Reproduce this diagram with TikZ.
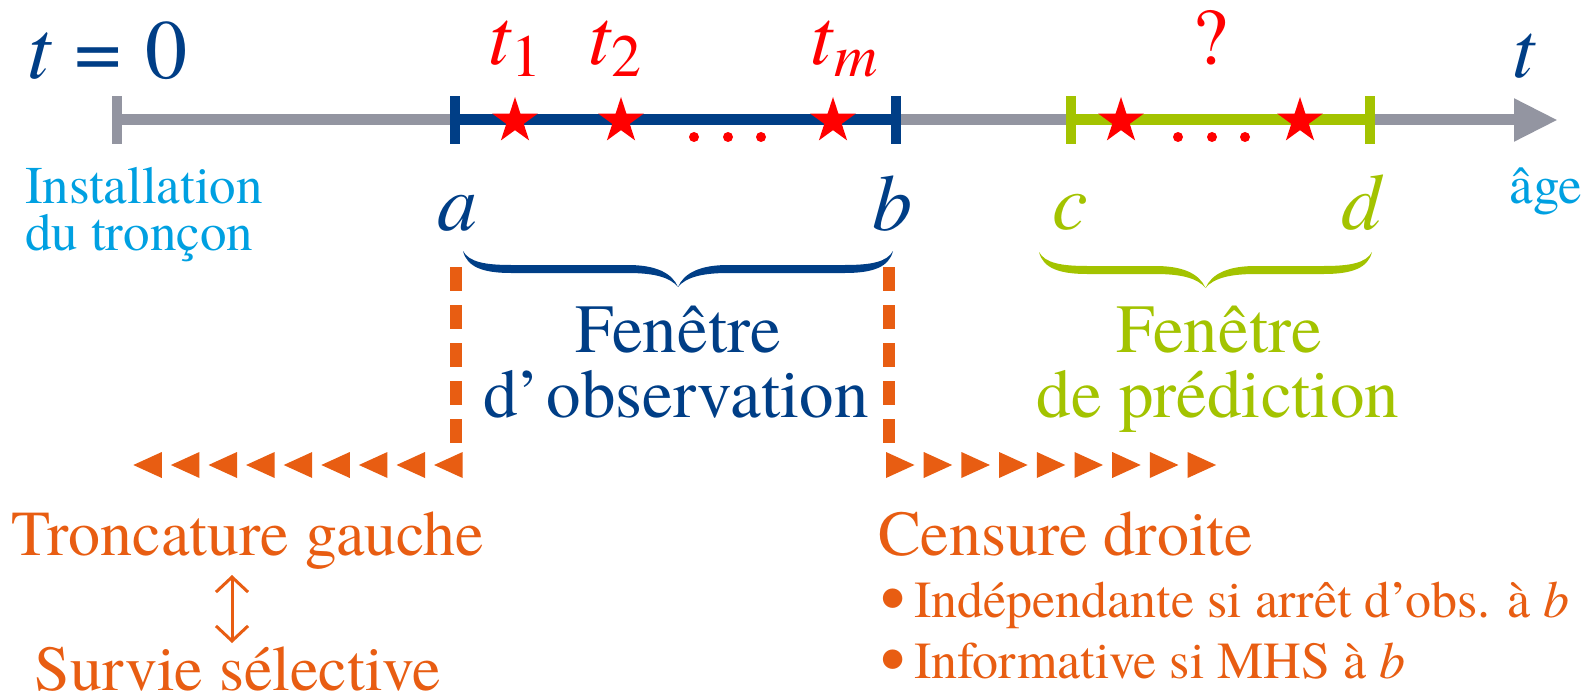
\documentclass[tikz,border=0pt]{standalone}
\usepackage{fontspec}
\IfFontExistsTF{texgyretermes-regular.otf}{%
  \setmainfont{texgyretermes}[Extension=.otf, UprightFont=*-regular, ItalicFont=*-italic, BoldFont=*-bold, BoldItalicFont=*-bolditalic]}{%
  \setmainfont{Liberation Serif}}
\usetikzlibrary{shapes.geometric,arrows.meta}
\definecolor{dblue}{RGB}{0,62,134}
\definecolor{axgray}{RGB}{147,149,161}
\definecolor{lblue}{RGB}{0,160,225}
\definecolor{lgreen}{RGB}{163,195,0}
\definecolor{orng}{RGB}{232,93,18}
% filled calligraphic brace: #1 left x, #2 right x, #3 top y, #4 colour
\newcommand\winbrace[4]{%
  \pgfmathsetmacro\xm{(#1+#2)/2}%
  \fill[#4] (#1,#3) .. controls ({#1+6},{#3+11}) and ({#1+22},{#3+14}) .. ({#1+48},{#3+14})
     -- ({\xm-50},{#3+14}) .. controls ({\xm-22},{#3+14}) and ({\xm-6},{#3+22}) .. (\xm,{#3+36})
     .. controls ({\xm+6},{#3+22}) and ({\xm+22},{#3+14}) .. ({\xm+50},{#3+14})
     -- ({#2-48},{#3+14}) .. controls ({#2-22},{#3+14}) and ({#2-6},{#3+11}) .. (#2,#3)
     .. controls ({#2-4},{#3+16}) and ({#2-20},{#3+22}) .. ({#2-48},{#3+22})
     -- ({\xm+50},{#3+22}) .. controls ({\xm+25},{#3+22}) and ({\xm+8},{#3+26}) .. (\xm,{#3+36})
     .. controls ({\xm-8},{#3+26}) and ({\xm-25},{#3+22}) .. ({\xm-50},{#3+22})
     -- ({#1+48},{#3+22}) .. controls ({#1+20},{#3+22}) and ({#1+4},{#3+16}) .. (#1,#3) -- cycle;}
\newcommand\bigbul{\raisebox{-5bp}[0pt][0pt]{\fontsize{72bp}{52bp}\selectfont •}}
\begin{document}
\begin{tikzpicture}[x=1bp,y=-1bp,
  big/.style={font=\rmfamily\fontsize{80bp}{96bp}\selectfont, inner sep=0pt, outer sep=0pt},
  mid/.style={font=\rmfamily\fontsize{69bp}{69bp}\selectfont, inner sep=0pt, outer sep=0pt},
  lab/.style={font=\rmfamily\fontsize{64bp}{64bp}\selectfont, inner sep=0pt, outer sep=0pt, text=orng},
  small/.style={font=\rmfamily\fontsize{53bp}{53bp}\selectfont, inner sep=0pt, outer sep=0pt},
  bul/.style={font=\rmfamily\fontsize{52bp}{52bp}\selectfont, inner sep=0pt, outer sep=0pt, text=orng},
  tickmark/.style={line width=10bp},
  axisline/.style={line width=11bp},
  evstar/.style={star, star points=5, star point ratio=2.618, fill=red, draw=none, minimum size=48bp, inner sep=0pt},
  evdot/.style={circle, fill=red, minimum size=10bp, inner sep=0pt},
  obsline/.style={draw=orng, line width=12bp, dash pattern=on 24bp off 14bp},
  dblarrow/.style={draw=orng, line width=3bp, {Straight Barb[length=15bp,width=32bp]}-{Straight Barb[length=15bp,width=32bp]}}
]
\useasboundingbox (0,0) rectangle (1582,695);

% axis
\coordinate (O) at (117,120);
\coordinate (A) at (455,120);
\coordinate (B) at (896,120);
\coordinate (C) at (1071,120);
\coordinate (D) at (1370,120);
\coordinate (E) at (1558,120);
\draw[axisline, axgray, -{Triangle[length=44bp,width=40bp]}] (O) -- (E);
\draw[tickmark, axgray] ([yshift=23.5bp]O) -- ([yshift=-23.5bp]O);
\draw[axisline, dblue] (A) -- (B);
\draw[tickmark, dblue] ([yshift=23.5bp]A) -- ([yshift=-23.5bp]A);
\draw[tickmark, dblue] ([yshift=23.5bp]B) -- ([yshift=-23.5bp]B);
\draw[axisline, lgreen] (C) -- (D);
\draw[tickmark, lgreen] ([yshift=23.5bp]C) -- ([yshift=-23.5bp]C);
\draw[tickmark, lgreen] ([yshift=23.5bp]D) -- ([yshift=-23.5bp]D);

% events
\node[evstar] (s1) at (515,121) {};
\node[evstar] (s2) at (621,121) {};
\node[evstar] (sm) at (833,121) {};
\node[evdot] (d1) at (694,137) {};
\node[evdot] (d2) at (728,137) {};
\node[evdot] (d3) at (761,137) {};
\node[evstar] (p1) at (1121,121) {};
\node[evstar] (p2) at (1300,121) {};
\node[evdot] (e1) at (1178,137) {};
\node[evdot] (e2) at (1212,137) {};
\node[evdot] (e3) at (1245,137) {};

% top labels
\node[big, font=\rmfamily\fontsize{84bp}{96bp}\selectfont, text=dblue, anchor=base west] (t0) at (27,79) {\textit{t}\hspace{23bp}=\hspace{23bp}0};
\node[big, text=red, anchor=base] (lt1) at (515,65) {\textit{t}\raisebox{-12bp}{\fontsize{60bp}{60bp}\selectfont 1}};
\node[big, text=red, anchor=base] (lt2) at (615,65) {\textit{t}\raisebox{-12bp}{\fontsize{60bp}{60bp}\selectfont 2}};
\node[big, text=red, anchor=base] (ltm) at (844,65) {\textit{t}\raisebox{-12bp}{\fontsize{60bp}{60bp}\selectfont\itshape m}};
\node[big, text=red, anchor=base] (q) at (1210,65) {?};
\node[big, text=dblue, anchor=base] (tt) at (1524,78) {\textit{t}};

% bound labels
\node[big, text=dblue, anchor=base] (la) at (457,230) {\textit{a}};
\node[big, text=dblue, anchor=base] (lb) at (892,230) {\textit{b}};
\node[big, text=lgreen, anchor=base] (lc) at (1070,229) {\textit{c}};
\node[big, text=lgreen, anchor=base] (ld) at (1363,229) {\textit{d}};

\node[small, text=lblue, anchor=base west, text depth=0pt] (inst1) at (25,203) {Installation};
\node[small, text=lblue, anchor=base west, text height=30bp] (inst2) at (25,250) {du tronçon};
\node[small, text=lblue, anchor=base east] (age) at (1582,203) {âge};

% braces
\winbrace{463}{893}{251}{dblue}
\winbrace{1039}{1372}{252}{lgreen}

\node[mid, text=dblue, anchor=base] (fo1) at (678,352) {Fenêtre};
\node[mid, text=dblue, anchor=base] (fo2) at (676,417) {d’\hspace{6bp}observation};
\node[mid, text=lgreen, anchor=base] (fp1) at (1219,352) {Fenêtre};
\node[mid, text=lgreen, anchor=base] (fp2) at (1218,417) {de prédiction};

% orange dashed limits
\coordinate (la1) at (456,267);
\coordinate (la2) at (456,443);
\coordinate (lb1) at (889,267);
\coordinate (lb2) at (889,443);
\draw[obsline] (la1) -- (la2);
\draw[obsline] (lb1) -- (lb2);

% triangle rows
\foreach \i in {0,...,8} {
  \fill[orng] ({133.3+37.6*\i},465) -- ++(28.5,-13) -- ++(0,26) -- cycle;
  \fill[orng] ({886+37.7*\i},452) -- ++(0,26) -- ++(28.5,-13) -- cycle;
}

% bottom labels
\node[lab, anchor=base] (trg) at (248,555) {Troncature gauche};
\node[lab, anchor=base, text depth=0pt] (svs) at (238,690) {Survie sélective};
\coordinate (ua) at (232,575);
\coordinate (da) at (232,643);
\draw[dblarrow] (ua) -- (da);

\node[lab, anchor=base west] (cd) at (878,555) {Censure droite};
\node[bul, anchor=base west] (bi1) at (880,617) {\bigbul\hspace{9bp}Indépendante si arrêt d’obs. à \textit{b}};
\node[bul, anchor=base west] (bi2) at (880,678) {\bigbul\hspace{9bp}Informative si MHS à \textit{b}};
\end{tikzpicture}
\end{document}
